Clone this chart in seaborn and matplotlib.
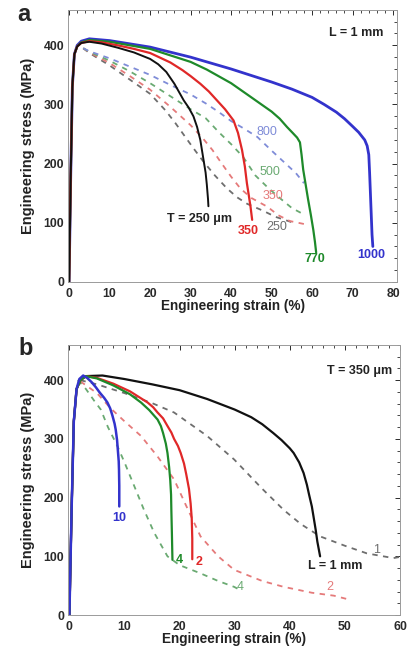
import numpy as np
import pandas as pd
import matplotlib
matplotlib.use("Agg")
import matplotlib.pyplot as plt
import seaborn as sns
from matplotlib.ticker import MultipleLocator

sns.set_theme(style="white")
plt.rcParams['font.family'] = ['Liberation Sans', 'DejaVu Sans']

# ---------------- Panel a data (L = 1 mm) ----------------
a_solid_250_x = [0, 0.4, 0.8, 1.3, 2, 3, 5, 8, 12, 16, 20, 22, 24, 26, 28.3, 29.5, 30.7, 31.6, 32.4, 33.2, 33.7, 34.0, 34.3, 34.4]
a_solid_250_y = [0, 180, 330, 385, 398, 404, 406, 403, 396, 388, 377, 368, 355, 335, 307, 295, 280, 262, 240, 206, 185, 165, 140, 128]
a_solid_350_x = [0, 0.4, 0.8, 1.3, 2, 3, 5, 8, 12, 16, 20, 25, 28, 30, 32.4, 34.5, 36.5, 38.5, 40.6, 41.7, 42.7, 43.4, 43.9, 44.4, 44.8, 45.2]
a_solid_350_y = [0, 180, 330, 385, 398, 404, 407, 405, 400, 394, 387, 371, 358, 348, 335, 322, 307, 292, 273, 252, 223, 195, 167, 145, 127, 105]
a_solid_770_x = [0, 0.4, 0.8, 1.3, 2, 3, 5, 10, 20, 30, 34, 40, 44.8, 47.5, 50, 52, 53.8, 55.2, 56.3, 57, 57.4, 57.8, 58.4, 59, 59.7, 60.3, 60.7, 61]
a_solid_770_y = [0, 180, 330, 385, 398, 405, 409, 406, 394, 372, 359, 336, 313, 300, 288, 276, 262, 252, 244, 236, 215, 190, 165, 140, 113, 88, 68, 50]
a_solid_1000_x = [0, 0.4, 0.8, 1.3, 2, 3, 5, 10, 20, 30, 40, 50, 55, 60, 63, 66, 68, 70, 71.5, 73, 73.6, 74, 74.2, 74.4, 74.6, 74.8, 75]
a_solid_1000_y = [0, 180, 330, 385, 400, 407, 411, 408, 397, 380, 360, 338, 326, 312, 300, 287, 276, 263, 253, 240, 230, 215, 185, 150, 115, 80, 60]

a_dash_800_x = [3.5, 5, 10, 15, 20, 25, 30, 33.7, 37, 40, 43, 46.5, 50, 53, 56, 58]
a_dash_800_y = [395, 390, 378, 364, 350, 333, 317, 302, 287, 272, 260, 245, 222, 203, 184, 167]
a_dash_500_x = [3.5, 5, 10, 15, 20, 25, 30, 33.7, 37, 40, 43, 46, 49, 52, 55, 58]
a_dash_500_y = [395, 389, 374, 356, 336, 314, 292, 277, 253, 233, 211, 180, 160, 142, 125, 114]
a_dash_350_x = [3.5, 5, 10, 15, 20, 25, 30, 33, 35.4, 37.4, 40, 42.3, 45, 49, 51.6, 54.5, 58]
a_dash_350_y = [395, 388, 370, 348, 325, 296, 265, 243, 223, 203, 178, 158, 142, 127, 113, 103, 98]
a_dash_250_x = [3.5, 5, 10, 15, 20, 23.8, 26.3, 28.7, 30.7, 33, 36, 39, 41.5, 44, 47.7, 51, 55]
a_dash_250_y = [395, 387, 366, 342, 318, 290, 268, 245, 226, 205, 180, 158, 143, 132, 121, 110, 101]

# ---------------- Panel b data (T = 350 um) ----------------
b_solid_1_x = [0, 0.4, 0.8, 1.3, 2, 3, 6, 10, 15, 20, 25, 30, 33, 35, 37, 38.5, 40, 40.7, 41.7, 42.5, 43.1, 43.5, 44, 44.3, 44.7, 45, 45.5]
b_solid_1_y = [0, 180, 330, 385, 400, 407, 408, 402, 393, 383, 368, 350, 337, 325, 310, 298, 284, 276, 260, 242, 222, 205, 185, 168, 145, 125, 100]
b_solid_2_x = [0, 0.4, 0.8, 1.3, 2, 3, 5, 8, 11, 14.2, 15.2, 16, 17, 17.8, 18.5, 19, 19.7, 20.2, 20.8, 21.2, 21.5, 21.7, 22.0, 22.2, 22.3, 22.3]
b_solid_2_y = [0, 180, 330, 385, 400, 407, 404, 394, 381, 362, 354, 345, 335, 322, 311, 300, 288, 276, 258, 240, 225, 215, 190, 165, 130, 95]
b_solid_4_x = [0, 0.4, 0.8, 1.3, 2, 3, 5, 8, 11, 13, 14.5, 16, 16.6, 17, 17.5, 17.8, 18.1, 18.3, 18.45, 18.5, 18.6, 18.7]
b_solid_4_y = [0, 180, 330, 385, 400, 407, 403, 391, 376, 362, 349, 333, 322, 310, 292, 276, 252, 230, 205, 180, 140, 94]
b_solid_10_x = [0, 0.4, 0.8, 1.3, 1.8, 2.5, 3.2, 4, 4.8, 5.5, 6.3, 6.9, 7.4, 7.8, 8.2, 8.4, 8.65, 8.8, 8.95, 9.0, 9.05, 9.05]
b_solid_10_y = [0, 180, 330, 385, 402, 408, 404, 397, 388, 379, 370, 362, 352, 340, 326, 316, 298, 280, 262, 248, 220, 185]

b_dash_1_x = [2, 5, 10, 15, 19, 25, 29.9, 35, 38.9, 42, 45.5, 50, 54, 58.8, 60]
b_dash_1_y = [400, 393, 378, 361, 345, 305, 265, 215, 179, 155, 134, 118, 105, 97, 99]
b_dash_2_x = [2, 5, 7.5, 10, 13, 16, 19, 21, 23.8, 27, 29.9, 35, 38.9, 44, 48, 50.5]
b_dash_2_y = [398, 378, 352, 330, 305, 270, 231, 190, 134, 100, 77, 58, 48, 38, 33, 27]
b_dash_4_x = [1.5, 3, 4.5, 5.7, 7, 8.7, 10, 11.8, 13.5, 15.4, 17.8, 20, 23.8, 27, 29.9, 30.5]
b_dash_4_y = [400, 385, 365, 350, 320, 288, 260, 219, 180, 140, 100, 85, 71, 58, 48, 45]

# colours
BLUE, GREEN, RED, BLACK = '#3333cc', '#1e8a2a', '#e02828', '#111111'
LBLUE, LGREEN, LRED, LGRAY = '#7f8cd8', '#6aaa72', '#e57a7a', '#6e6e6e'

fig = plt.figure(figsize=(4.09, 6.55), dpi=100)
axa = fig.add_axes([0.167, 0.5695, 0.804, 0.4155])
axb = fig.add_axes([0.167, 0.061, 0.811, 0.4123])


def draw(ax, x, y, color, lw, dashed=False):
    df = pd.DataFrame({'x': x, 'y': y})
    sns.lineplot(data=df, x='x', y='y', ax=ax, color=color, lw=lw, sort=False,
                 estimator=None, linestyle=(0, (3.0, 3.0)) if dashed else '-')


# panel a
for xx, yy, c in [(a_dash_250_x, a_dash_250_y, LGRAY), (a_dash_350_x, a_dash_350_y, LRED),
                  (a_dash_500_x, a_dash_500_y, LGREEN), (a_dash_800_x, a_dash_800_y, LBLUE)]:
    draw(axa, xx, yy, c, 1.3, dashed=True)
draw(axa, a_solid_1000_x, a_solid_1000_y, BLUE, 2.0)
draw(axa, a_solid_770_x, a_solid_770_y, GREEN, 1.6)
draw(axa, a_solid_350_x, a_solid_350_y, RED, 1.6)
draw(axa, a_solid_250_x, a_solid_250_y, BLACK, 1.4)

# panel b
draw(axb, b_dash_1_x, b_dash_1_y, LGRAY, 1.3, dashed=True)
draw(axb, b_dash_2_x, b_dash_2_y, LRED, 1.3, dashed=True)
draw(axb, b_dash_4_x, b_dash_4_y, LGREEN, 1.3, dashed=True)
draw(axb, b_solid_1_x, b_solid_1_y, BLACK, 1.6)
draw(axb, b_solid_2_x, b_solid_2_y, RED, 1.6)
draw(axb, b_solid_4_x, b_solid_4_y, GREEN, 1.6)
draw(axb, b_solid_10_x, b_solid_10_y, BLUE, 1.8)

fs = 8.8
for ax, xmax, xt in [(axa, 81, [0, 10, 20, 30, 40, 50, 60, 70, 80]), (axb, 60, [0, 10, 20, 30, 40, 50, 60])]:
    ax.set_xlim(-0.2, xmax)
    ax.set_ylim(0, 460)
    ax.set_xticks(xt)
    ax.xaxis.set_minor_locator(MultipleLocator(2))
    ax.set_yticks([0, 100, 200, 300, 400])
    ax.yaxis.set_minor_locator(MultipleLocator(20))
    ax.tick_params(which='both', direction='in', top=True, right=True, labelsize=fs,
                   colors='#2a2a2a')
    ax.tick_params(axis='x', which='both', pad=4.5)
    ax.tick_params(axis='y', which='both', pad=3)
    ax.tick_params(which='major', length=3.5, width=0.7)
    ax.tick_params(which='minor', length=2, width=0.6)
    for lab in ax.get_xticklabels() + ax.get_yticklabels():
        lab.set_fontweight('bold')
    for s in ax.spines.values():
        s.set_color('#9a9a9a')
        s.set_linewidth(0.7)
    ax.set_xlabel('Engineering strain (%)', fontsize=9.8, fontweight='bold', color='#222222', labelpad=-1)
    ax.set_ylabel('Engineering stress (MPa)', fontsize=10.5, fontweight='bold', color='#222222', labelpad=6)

# annotations panel a
tk = dict(fontsize=9, ha='center', va='center')
axa.text(0.875, 0.914, 'L = 1 mm', transform=axa.transAxes, color='#222222', fontweight='bold', **tk)
axa.text(48.8, 253, '800', color=LBLUE, **tk)
axa.text(49.6, 186, '500', color=LGREEN, **tk)
axa.text(50.4, 146, '350', color=LRED, **tk)
axa.text(51.3, 93, '250', color=LGRAY, **tk)
axa.text(44.3, 87, '350', color=RED, fontweight='bold', **tk)
axa.text(32.3, 107, 'T = 250 μm', color='#222222', fontweight='bold', **tk)
axa.text(60.7, 39, '770', color=GREEN, fontweight='bold', **tk)
axa.text(74.6, 45, '1000', color=BLUE, fontweight='bold', **tk)

# annotations panel b
axb.text(0.877, 0.905, 'T = 350 μm', transform=axb.transAxes, color='#222222', fontweight='bold', **tk)
axb.text(9.0, 165, '10', color=BLUE, fontweight='bold', **tk)
axb.text(19.9, 94, '4', color=GREEN, fontweight='bold', **tk)
axb.text(23.5, 91, '2', color=RED, fontweight='bold', **tk)
axb.text(48.3, 83, 'L = 1 mm', color='#222222', fontweight='bold', **tk)
axb.text(55.8, 111, '1', color=LGRAY, **tk)
axb.text(47.3, 48, '2', color=LRED, **tk)
axb.text(31.0, 48, '4', color=LGREEN, **tk)

fig.text(0.058, 0.978, 'a', fontsize=17, fontweight='bold', ha='center', va='center')
fig.text(0.063, 0.468, 'b', fontsize=17, fontweight='bold', ha='center', va='center')

fig.savefig('out.png', dpi=100)
